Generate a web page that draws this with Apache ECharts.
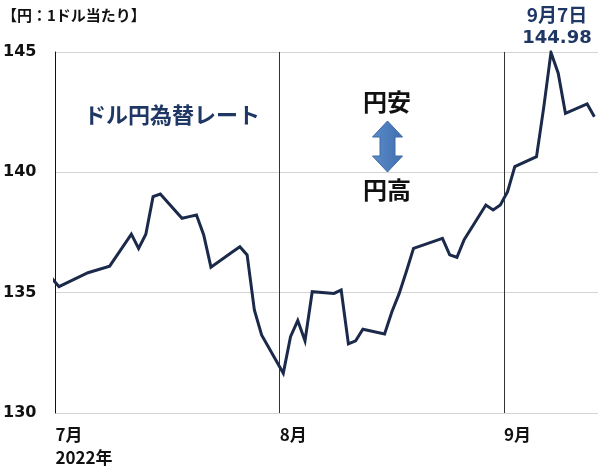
<!DOCTYPE html>
<html lang="ja">
<head>
<meta charset="utf-8" />
<title>ドル円為替レート</title>
<script src="https://cdn.jsdelivr.net/npm/echarts@6/dist/echarts.min.js"></script>
<style>
  html, body { margin: 0; padding: 0; background: #fff; }
  #chart { width: 600px; height: 471px; }
</style>
</head>
<body>
<div id="chart"></div>
<script>
// 円：1ドル当たり（終値の読み取り）
var dates = [
  '2022-06-30', '2022-07-01', '2022-07-05', '2022-07-08', '2022-07-11', '2022-07-12',
  '2022-07-13', '2022-07-14', '2022-07-15', '2022-07-18', '2022-07-19', '2022-07-20',
  '2022-07-21', '2022-07-22', '2022-07-25', '2022-07-26', '2022-07-27', '2022-07-28',
  '2022-07-29', '2022-08-01', '2022-08-02', '2022-08-03', '2022-08-04', '2022-08-05',
  '2022-08-08', '2022-08-09', '2022-08-10', '2022-08-11', '2022-08-12', '2022-08-15',
  '2022-08-16', '2022-08-17', '2022-08-18', '2022-08-19', '2022-08-22', '2022-08-23',
  '2022-08-24', '2022-08-25', '2022-08-26', '2022-08-29', '2022-08-30', '2022-08-31',
  '2022-09-01', '2022-09-02', '2022-09-05', '2022-09-06', '2022-09-07', '2022-09-08',
  '2022-09-09', '2022-09-12', '2022-09-13'
];
var rates = [
  135.60, 135.25, 135.83, 136.10, 137.43, 136.84,
  137.43, 138.99, 139.10, 138.09, 138.16, 138.23,
  137.40, 136.06, 136.70, 136.91, 136.57, 134.28,
  133.24, 131.65, 133.17, 133.84, 133.00, 135.04,
  134.97, 135.11, 132.87, 133.00, 133.48, 133.28,
  134.20, 134.95, 135.87, 136.84, 137.15, 137.26,
  136.57, 136.47, 137.20, 138.64, 138.44, 138.64,
  139.20, 140.24, 140.65, 142.70, 144.98, 144.12,
  142.45, 142.84, 142.31
];
var monthLabels = ['7月\n2022年', '8月', '9月'];
var monthStarts = ['2022-07-01', '2022-08-01', '2022-09-01'];
var yTicks = [130, 135, 140, 145];

var DAY = 86400000;
var origin = Date.UTC(2022, 6, 1);
function dayOf(s) {
  var p = s.split('-');
  return (Date.UTC(+p[0], +p[1] - 1, +p[2]) - origin) / DAY;
}
var monthDays = monthStarts.map(dayOf);
// 各日の点は日の中央に置く
var seriesData = dates.map(function (d, i) { return [dayOf(d) + 0.5, rates[i]]; });

var latin = "'DejaVu Sans', 'Noto Sans CJK JP', sans-serif";
var cjk = "'Noto Sans CJK JP', sans-serif";
var navy = '#1f3764';

var chart = echarts.init(document.getElementById('chart'), null, {renderer: 'canvas'});
chart.setOption({
  animation: false,
  grid: {left: 55, right: 2, top: 52, bottom: 58},
  xAxis: {
    type: 'value',
    min: 0,
    max: dayOf('2022-09-14'),
    interval: monthDays[1] - monthDays[0],
    axisLine: {show: false},
    axisTick: {show: false},
    splitLine: {
      show: true,
      showMaxLine: false,
      lineStyle: {color: '#333', width: 1}
    },
    axisLabel: {
      align: 'left',
      margin: 10,
      showMaxLabel: false,
      fontFamily: cjk,
      fontWeight: 'bold',
      fontSize: 17,
      lineHeight: 23,
      color: '#111',
      formatter: function (v) {
        var i = monthDays.indexOf(Math.round(v));
        return i >= 0 ? monthLabels[i] : '';
      }
    }
  },
  yAxis: {
    type: 'value',
    min: yTicks[0],
    max: yTicks[yTicks.length - 1],
    interval: yTicks[1] - yTicks[0],
    axisLine: {show: true, lineStyle: {color: '#111', width: 1}},
    axisTick: {show: false},
    splitLine: {lineStyle: {color: '#d4d4d4', width: 1}},
    axisLabel: {
      margin: 19,
      fontFamily: latin,
      fontWeight: 'bold',
      fontSize: 16,
      color: '#111'
    }
  },
  series: [{
    type: 'line',
    data: seriesData,
    symbol: 'none',
    clip: true,
    lineStyle: {color: '#1b2a4a', width: 3, join: 'miter'},
    markPoint: {
      symbol: 'circle',
      symbolSize: 2,
      itemStyle: {color: 'transparent'},
      data: [{type: 'max', valueDim: 'y'}],
      label: {
        position: 'top',
        distance: 2,
        offset: [6, 0],
        fontFamily: latin,
        fontWeight: 'bold',
        fontSize: 18,
        lineHeight: 23,
        color: navy,
        formatter: function (p) {
          var d = dates[rates.indexOf(p.value)].split('-');
          return '{a|' + (+d[1]) + '月' + (+d[2]) + '日}\n' + p.value.toFixed(2);
        },
        rich: {
          a: {fontFamily: cjk, fontWeight: 'bold', fontSize: 19, color: navy, lineHeight: 23}
        }
      }
    }
  }],
  graphic: [
    {
      type: 'text', left: 2, top: 8,
      style: {text: '【円：1ドル当たり】', font: "bold 15px 'Noto Sans CJK JP', sans-serif", fill: '#111'}
    },
    {
      type: 'text', x: 172, y: 115,
      style: {text: 'ドル円為替レート', font: "bold 22px 'Noto Sans CJK JP', sans-serif", fill: navy,
              align: 'center', verticalAlign: 'middle'}
    },
    {
      type: 'text', x: 387, y: 102,
      style: {text: '円安', font: "bold 24px 'Noto Sans CJK JP', sans-serif", fill: '#111',
              align: 'center', verticalAlign: 'middle'}
    },
    {
      type: 'text', x: 387, y: 190,
      style: {text: '円高', font: "bold 24px 'Noto Sans CJK JP', sans-serif", fill: '#111',
              align: 'center', verticalAlign: 'middle'}
    },
    {
      type: 'polygon',
      shape: {points: [
        [387.5, 121], [402.5, 137], [395, 137], [395, 156], [402.5, 156],
        [387.5, 172], [372.5, 156], [380, 156], [380, 137], [372.5, 137]
      ]},
      style: {
        fill: new echarts.graphic.LinearGradient(0, 0, 1, 0, [
          {offset: 0, color: '#5b8bc9'}, {offset: 1, color: '#3f6fae'}
        ]),
        stroke: '#3c6aa6', lineWidth: 1
      }
    }
  ]
});
</script>
</body>
</html>
